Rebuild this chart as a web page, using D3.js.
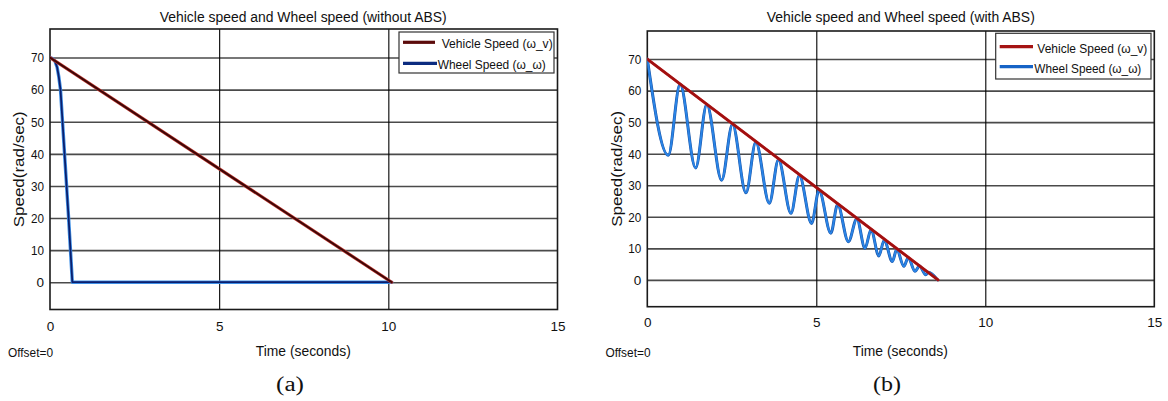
<!DOCTYPE html>
<html>
<head>
<meta charset="utf-8">
<script src="https://cdn.jsdelivr.net/npm/d3@7"></script>
<style>
  html, body { margin: 0; padding: 0; background: #fff; }
  svg { display: block; }
  text { font-family: "Liberation Sans", Arial, Helvetica, sans-serif; fill: #111; }
</style>
</head>
<body>
<svg id="fig" width="1168" height="401"></svg>
<script>
// Shared tick values of both scope windows
const timeTicks = [0, 5, 10, 15];
const speedTicks = [0, 10, 20, 30, 40, 50, 60, 70];

// (a) braking without ABS: time (s) and speed (rad/s)
const noAbsVehicleT = [0, 10.1];
const noAbsVehicleV = [70, 0];
const noAbsWheelT = [0, 0.08, 0.15, 0.21, 0.26, 0.31, 0.37, 0.43, 0.49, 0.55, 0.605, 0.66, 10.1];
const noAbsWheelV = [70, 69.7, 68.8, 67, 64, 60, 50, 40, 30, 20, 10, 0, 0];

// (b) braking with ABS: wheel speed cycles below the vehicle speed
const absVehicleT = [0, 8.6];
const absVehicleV = [70, 0];
const absWheelT = [0, 0.62, 0.97, 1.43, 1.76, 2.20, 2.52, 2.92, 3.21, 3.61, 3.88, 4.25, 4.50,
  4.86, 5.08, 5.43, 5.63, 5.95, 6.20, 6.44, 6.62, 6.85, 7.01, 7.25, 7.38, 7.59, 7.72,
  7.92, 8.05, 8.24, 8.31, 8.59];
const absWheelV = [70, 39.5, 62.0, 35.5, 55.6, 31.6, 49.3, 27.6, 43.6, 24.3, 38.1, 21.1, 33.1,
  17.9, 28.4, 14.8, 23.9, 12.1, 19.4, 10.0, 15.9, 7.6, 12.6, 5.8, 9.7, 4.3, 7.0,
  2.7, 4.4, 1.6, 2.4, 0];

const legendLabels = ["Vehicle Speed (\u03C9_v)", "Wheel Speed (\u03C9_\u03C9)"];
const yDomain = [-8.5, 78.9];
const xDomain = [0, 15];

const svg = d3.select("#fig");

function zip(ts, vs) { return ts.map((t, i) => [t, vs[i]]); }

function drawScope(cfg) {
  const x = d3.scaleLinear().domain(xDomain).range([cfg.left, cfg.right]);
  const y = d3.scaleLinear().domain(yDomain).range([cfg.bottom, cfg.top]);
  const w = cfg.right - cfg.left, h = cfg.bottom - cfg.top;
  const g = svg.append("g");

  // title
  g.append("text")
    .attr("x", (cfg.left + cfg.right) / 2 + cfg.titleDx).attr("y", 22)
    .attr("text-anchor", "middle").attr("font-size", 15.5)
    .attr("textLength", cfg.titleLen).attr("lengthAdjust", "spacingAndGlyphs")
    .text(cfg.title);

  // horizontal grid
  const hg = g.append("g").attr("transform", `translate(${cfg.left},0)`)
    .call(d3.axisLeft(y).tickValues(speedTicks).tickSize(-w).tickFormat(""));
  hg.select(".domain").remove();
  hg.selectAll("line").attr("stroke", "#4a4a4a").attr("stroke-width", 1.6);

  // vertical grid
  const vg = g.append("g").attr("transform", `translate(0,${cfg.bottom})`)
    .call(d3.axisBottom(x).tickValues(timeTicks.slice(1, -1)).tickSize(-h).tickFormat(""));
  vg.select(".domain").remove();
  vg.selectAll("line").attr("stroke", "#000").attr("stroke-width", 1.1);

  // frame
  g.append("rect").attr("x", cfg.left).attr("y", cfg.top).attr("width", w).attr("height", h)
    .attr("fill", "none").attr("stroke", "#1a1a1a").attr("stroke-width", 1.6);

  // tick labels
  const ya = g.append("g").attr("transform", `translate(${cfg.left},0)`)
    .call(d3.axisLeft(y).tickValues(speedTicks).tickSize(0).tickPadding(6));
  ya.select(".domain").remove();
  ya.selectAll("text").attr("font-size", 13.5).attr("font-family", null).attr("fill", "#111")
    .attr("textLength", 13).attr("lengthAdjust", "spacingAndGlyphs")
    .filter(d => d === 0).attr("textLength", null);

  const xa = g.append("g").attr("transform", `translate(0,${cfg.bottom})`)
    .call(d3.axisBottom(x).tickValues(timeTicks).tickSize(0).tickPadding(cfg.xPad));
  xa.select(".domain").remove();
  xa.selectAll("text").attr("font-size", 13.5).attr("font-family", null).attr("fill", "#111");

  // axis titles
  g.append("text")
    .attr("transform", `translate(${cfg.yLabelX},${(cfg.top + cfg.bottom) / 2}) rotate(-90)`)
    .attr("text-anchor", "middle").attr("font-size", 15)
    .attr("textLength", 116).attr("lengthAdjust", "spacingAndGlyphs")
    .text("Speed(rad/sec)");

  g.append("text")
    .attr("x", (cfg.left + cfg.right) / 2 - 0.5).attr("y", 355.5)
    .attr("text-anchor", "middle").attr("font-size", 15)
    .attr("textLength", 95).attr("lengthAdjust", "spacingAndGlyphs")
    .text("Time (seconds)");

  g.append("text")
    .attr("x", cfg.offsetX).attr("y", 356.5)
    .attr("font-size", 13.5)
    .attr("textLength", 45).attr("lengthAdjust", "spacingAndGlyphs")
    .text("Offset=0");

  g.append("text")
    .attr("x", cfg.captionX).attr("y", 391)
    .attr("text-anchor", "middle").attr("font-size", 20)
    .attr("textLength", 28).attr("lengthAdjust", "spacingAndGlyphs")
    .style("font-family", "'Liberation Serif', 'Times New Roman', serif")
    .text(cfg.caption);

  // traces
  const clip = "clip-" + cfg.caption.replace(/\W/g, "");
  svg.append("clipPath").attr("id", clip).append("rect")
    .attr("x", cfg.left).attr("y", cfg.top).attr("width", w).attr("height", h);
  const traces = g.append("g").attr("clip-path", `url(#${clip})`);
  const line = d3.line().x(d => x(d[0])).y(d => y(d[1])).curve(cfg.wheelCurve);
  const straight = d3.line().x(d => x(d[0])).y(d => y(d[1]));

  function trace(data, gen, style) {
    traces.append("path").datum(data).attr("d", gen)
      .attr("fill", "none").attr("stroke", style.halo).attr("stroke-width", style.haloW)
      .attr("stroke-linejoin", "round").attr("stroke-linecap", "round");
    traces.append("path").datum(data).attr("d", gen)
      .attr("fill", "none").attr("stroke", style.core).attr("stroke-width", style.coreW)
      .attr("stroke-linejoin", "round").attr("stroke-linecap", "round");
  }
  trace(cfg.wheel, line, cfg.wheelStyle);
  trace(cfg.vehicle, straight, cfg.vehicleStyle);

  // legend
  const L = cfg.legend;
  const lg = g.append("g");
  lg.append("rect").attr("x", L.x).attr("y", L.y).attr("width", L.w).attr("height", L.h)
    .attr("fill", "#fff").attr("stroke", "#333").attr("stroke-width", 1.2);
  const legendStyles = [cfg.vehicleLegend, cfg.wheelLegend];
  L.rows.forEach((r, i) => {
    lg.append("line").attr("x1", L.x + 4).attr("x2", r.lineEnd)
      .attr("y1", r.lineY).attr("y2", r.lineY)
      .attr("stroke", legendStyles[i]).attr("stroke-width", 3.2);
    lg.append("text").attr("x", r.textX).attr("y", r.baseY)
      .attr("font-size", 12.5)
      .attr("textLength", r.textLen).attr("lengthAdjust", "spacingAndGlyphs")
      .text(legendLabels[i]);
  });
}

drawScope({
  title: "Vehicle speed and Wheel speed (without ABS)", titleLen: 287, titleDx: -0.5,
  caption: "(a)", captionX: 290,
  left: 50, right: 557.5, top: 29, bottom: 309.5, xPad: 12,
  yLabelX: 24, offsetX: 8,
  vehicle: zip(noAbsVehicleT, noAbsVehicleV),
  wheel: zip(noAbsWheelT, noAbsWheelV),
  wheelCurve: d3.curveLinear,
  vehicleStyle: { halo: "#c23a32", haloW: 3.2, core: "#3e0707", coreW: 1.9 },
  wheelStyle: { halo: "#3d8fe6", haloW: 3.4, core: "#0b1f6e", coreW: 1.8 },
  vehicleLegend: "#5c0b0b", wheelLegend: "#0c2c80",
  legend: { x: 399, y: 32, w: 155, h: 41,
    rows: [
      { lineY: 42.3, lineEnd: 435, textX: 441.7, baseY: 47.5, textLen: 111 },
      { lineY: 63.3, lineEnd: 437, textX: 437.7, baseY: 68.5, textLen: 108 }
    ] }
});

drawScope({
  title: "Vehicle speed and Wheel speed (with ABS)", titleLen: 268, titleDx: 0,
  caption: "(b)", captionX: 887,
  left: 647.3, right: 1154.3, top: 31, bottom: 306.7, xPad: 10.5,
  yLabelX: 622, offsetX: 605.5,
  vehicle: zip(absVehicleT, absVehicleV),
  wheel: zip(absWheelT, absWheelV),
  wheelCurve: d3.curveMonotoneX,
  vehicleStyle: { halo: "#b81d1d", haloW: 3.0, core: "#a01010", coreW: 2.2 },
  wheelStyle: { halo: "#1a55a8", haloW: 3.0, core: "#2a84e6", coreW: 2.0 },
  vehicleLegend: "#a51313", wheelLegend: "#1663c6",
  legend: { x: 995.7, y: 33.3, w: 155.3, h: 45.7,
    rows: [
      { lineY: 46.7, lineEnd: 1033, textX: 1037.3, baseY: 52.5, textLen: 110 },
      { lineY: 66.7, lineEnd: 1033, textX: 1034.3, baseY: 72.5, textLen: 107 }
    ] }
});
</script>
</body>
</html>
